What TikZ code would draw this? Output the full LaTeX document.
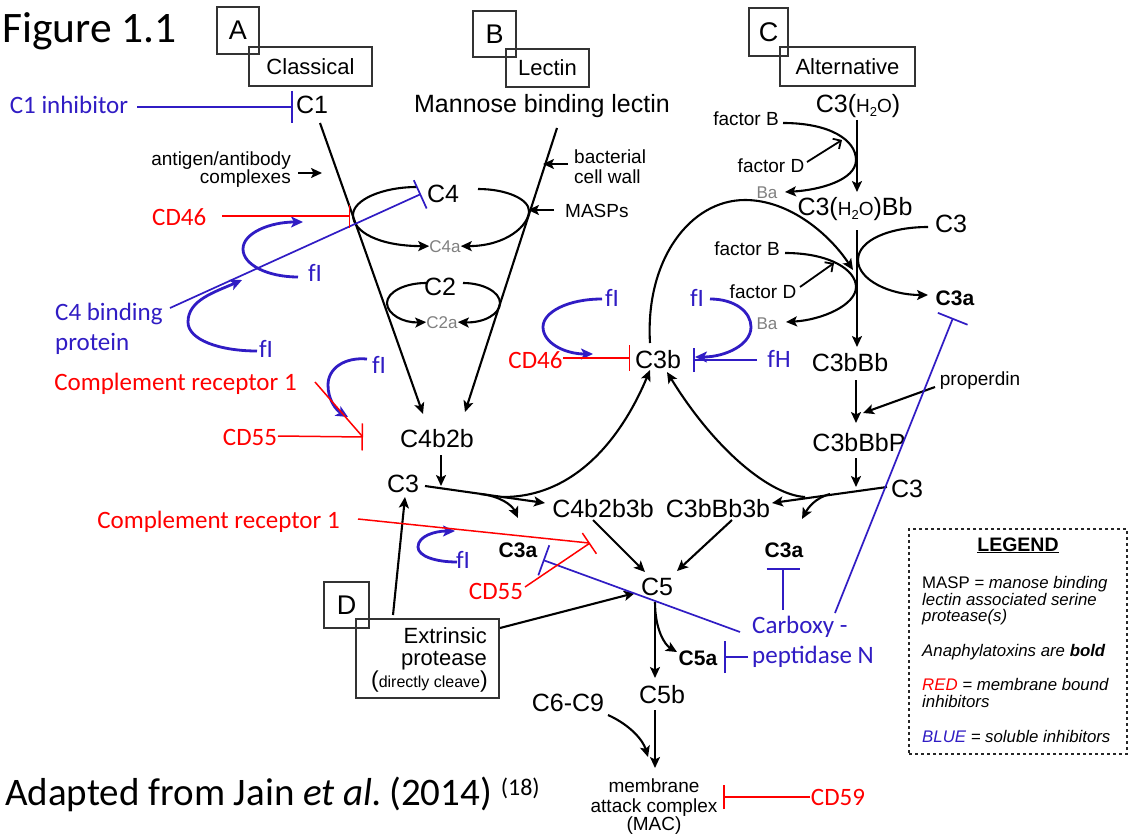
\documentclass[tikz,border=0pt]{standalone}
\usepackage{fontspec}
\setmainfont{Liberation Sans}
\newfontfamily\calfont{Carlito}
\usetikzlibrary{arrows.meta}
\definecolor{iblue}{RGB}{48,28,196}
\definecolor{ired}{RGB}{255,0,0}
\definecolor{tgray}{RGB}{128,128,128}
\newcommand\fsMain{\fontsize{25}{29}\selectfont}
\newcommand\fsSm{\fontsize{19}{21}\selectfont}
\newcommand\fsGr{\fontsize{17}{19}\selectfont}
\newcommand\fsBd{\fontsize{21}{23}\selectfont\bfseries}
\newcommand\fsCal{\calfont\fontsize{25}{28}\selectfont}
\newcommand\fsLeg{\fontsize{16.8}{19}\selectfont}
\newcommand\fsBox{\fontsize{22}{25}\selectfont}
\newcommand\fsLet{\fontsize{27}{30}\selectfont}
\newcommand\hwo{{\fontsize{19}{20}\selectfont H\raisebox{-4pt}{\fontsize{13}{14}\selectfont 2}O}}
\tikzset{
  lnp/.style={line width=2.1pt, black},
  lnk/.style={lnp, -{Stealth[length=11pt,width=10pt,inset=2.5pt]}},
  opn/.style={line width=1.8pt, black, -{Straight Barb[length=6pt,width=12pt]}},
  rln/.style={ired, line width=1.5pt},
  bln/.style={iblue, line width=1.7pt},
  bloop/.style={iblue, line width=2.8pt, -{Stealth[length=12pt,width=11pt,inset=3pt]}},
  bx/.style={draw=black!80, line width=1.2pt, inner sep=0pt},
  nd/.style={font=\fsMain, inner sep=0pt, anchor=base},
  sm/.style={font=\fsSm, inner sep=0pt, anchor=base},
  gr/.style={font=\fsGr, text=tgray, inner sep=0pt, anchor=base},
  bd/.style={font=\fsBd, inner sep=0pt, anchor=base},
  rc/.style={font=\fsCal, text=ired, inner sep=0pt, anchor=base},
  bc/.style={font=\fsCal, text=iblue, inner sep=0pt, anchor=base},
  lg/.style={font=\fsLeg, inner sep=0pt, anchor=base west},
}
\begin{document}
\begin{tikzpicture}[x=1pt,y=-1pt]
\fill[white] (0,0) rectangle (1133,840);
\useasboundingbox (0,0) rectangle (1133,840);

% ---------- title and pathway boxes ----------
\node[font=\calfont\fontsize{43.5}{50}\selectfont, inner sep=0pt, anchor=base west] (fig) at (2,43) {Figure 1.1};
\node[bx, minimum width=42pt, minimum height=47pt, font=\fsLet] (bA) at (238,30.5) {A};
\node[bx, minimum width=123pt, minimum height=39pt, font=\fsBox] (cls) at (310.5,66.5) {Classical};
\node[bx, minimum width=43pt, minimum height=46pt, font=\fsLet] (bB) at (494.5,34) {B};
\node[bx, minimum width=83pt, minimum height=38pt, font=\fsBox] (lec) at (547.5,68) {Lectin};
\node[bx, minimum width=39pt, minimum height=48pt, font=\fsLet] (bC) at (768.5,32) {C};
\node[bx, minimum width=135pt, minimum height=39pt, font=\fsBox] (alt) at (847.5,66.5) {Alternative};
\node[bx, minimum width=45pt, minimum height=46pt, font=\fsLet] (bD) at (346.5,605) {D};
\node[bx, minimum width=143pt, minimum height=79pt] (ext) at (427.5,658.5) {};
\node[font=\fontsize{22}{24}\selectfont, inner sep=0pt, anchor=base east] (ex1) at (487,643) {Extrinsic};
\node[font=\fontsize{22}{24}\selectfont, inner sep=0pt, anchor=base east] (ex2) at (487,665) {protease};
\node[inner sep=0pt, anchor=base east] (ex3) at (488,687) {{\fontsize{23}{24}\selectfont(}{\fontsize{16}{18}\selectfont directly cleave}{\fontsize{23}{24}\selectfont)}};

% ---------- main nodes ----------
\node[nd] (C1) at (312,114) {C1};
\node[nd] (MBL) at (542,113) {Mannose binding lectin};
\node[nd] (C4) at (443,203) {C4};
\node[gr] (C4a) at (445,252) {C4a};
\node[nd] (C2) at (440,295) {C2};
\node[gr] (C2a) at (442,328) {C2a};
\node[nd] (C4b2b) at (437,447) {C4b2b};
\node[nd] (C3L) at (403,492) {C3};
\node[nd] (C4b2b3b) at (603,517) {C4b2b3b};
\node[nd] (C3bBb3b) at (718,517) {C3bBb3b};
\node[nd] (C3b) at (658,368) {C3b};
\node[nd] (C5) at (657,595) {C5};
\node[nd] (C5b) at (662,703) {C5b};
\node[nd] (C6C9) at (568,711) {C6-C9};
\node[sm] (mac1) at (654,792) {membrane};
\node[sm] (mac2) at (654,812) {attack complex};
\node[sm] (mac3) at (654,830) {(MAC)};
\node[nd] (C3w) at (858,113) {C3(\hwo)};
\node[nd] (C3wBb) at (855,215) {C3(\hwo)Bb};
\node[nd] (C3R1) at (951,233) {C3};
\node[bd] (C3aR1) at (955,305) {C3a};
\node[nd] (C3bBb) at (850,371) {C3bBb};
\node[nd] (C3bBbP) at (859,451) {C3bBbP};
\node[nd] (C3R2) at (907,497) {C3};
\node[bd] (C3aR2) at (784,557) {C3a};
\node[bd] (C3aL) at (518,557) {C3a};
\node[bd] (C5a) at (698,665) {C5a};

% small black labels
\node[sm] (fB1) at (746,126) {factor B};
\node[sm] (fD1) at (771,172) {factor D};
\node[gr] (Ba1) at (767,199) {Ba};
\node[sm] (fB2) at (747,255) {factor B};
\node[sm] (fD2) at (763,298) {factor D};
\node[gr] (Ba2) at (767,329) {Ba};
\node[sm] (prop) at (980,385) {properdin};
\node[sm, anchor=base east] (ag1) at (291,166) {antigen/antibody};
\node[sm, anchor=base east] (ag2) at (291,184) {complexes};
\node[sm, anchor=base west] (bw1) at (574,164) {bacterial};
\node[sm, anchor=base west] (bw2) at (574,183) {cell wall};
\node[sm, anchor=base west] (masp) at (565,217) {MASPs};

% inhibitor labels
\node[bc] (C1inh) at (69,114) {C1 inhibitor};
\node[rc, anchor=base west] (CD46L) at (152,225) {CD46};
\node[bc, anchor=base west] (c4bp1) at (55,320) {C4 binding};
\node[bc, anchor=base west] (c4bp2) at (55,350) {protein};
\node[bc] (fI1) at (315,281) {fI};
\node[bc] (fI2) at (266,357) {fI};
\node[bc] (fI3) at (379,373) {fI};
\node[rc] (CR1U) at (175.5,390) {Complement receptor 1};
\node[rc] (CD55U) at (250,445) {CD55};
\node[rc] (CR1L) at (218.5,528) {Complement receptor 1};
\node[rc] (CD46M) at (535.5,368) {CD46};
\node[bc] (fIm1) at (612,306) {fI};
\node[bc] (fIm2) at (697,306) {fI};
\node[bc] (fH) at (779,367) {fH};
\node[bc] (fIL) at (463,568) {fI};
\node[rc] (CD55L) at (496,599) {CD55};
\node[bc, anchor=base west] (cpn1) at (752,633) {Carboxy -};
\node[bc, anchor=base west] (cpn2) at (752,663) {peptidase N};
\node[rc] (CD59) at (838,805) {CD59};

\node[font=\calfont\fontsize{39}{42}\selectfont, inner sep=0pt, anchor=base west] (src) at (5,805)
  {Adapted from Jain \textit{et al.}\kern-2pt\ (2014) \raisebox{10pt}{\fontsize{24}{26}\selectfont(18)}};

% ---------- legend ----------
\node[draw=black!85, dashed, line width=1.2pt, minimum width=218pt, minimum height=225pt, inner sep=0pt] (leg) at (1018,641.5) {};
\node[font=\fontsize{19.5}{21}\selectfont\bfseries, inner sep=0pt, anchor=base] (legt) at (1018,551) {\underline{LEGEND}};
\node[lg] (lg1) at (922,588) {MASP \textit{= manose binding}};
\node[lg] (lg2) at (922,605) {\textit{lectin associated serine}};
\node[lg] (lg3) at (922,621) {\textit{protease(s)}};
\node[lg] (lg4) at (922,656) {\textit{Anaphylatoxins are \textbf{bold}}};
\node[lg] (lg5) at (922,690) {\textit{\textcolor{ired}{RED} = membrane bound}};
\node[lg] (lg6) at (922,707) {\textit{inhibitors}};
\node[lg] (lg7) at (922,742) {\textit{\textcolor{iblue}{BLUE} = soluble inhibitors}};

% ---------- coordinates ----------
\path (320,123) coordinate (c1o)   (423,414) coordinate (c1i)
      (557,128) coordinate (mblo)  (465,412) coordinate (mbli)
      (298,173) coordinate (ago)   (322,173) coordinate (agi)
      (568,164) coordinate (bwo)   (543,164) coordinate (bwi)
      (554,210) coordinate (mso)   (528,210) coordinate (msi)
      (441,455) coordinate (c42o)  (441,486) coordinate (c42i)
      (425,486) coordinate (c3lo)  (545,503) coordinate (c3li)
      (480,494) coordinate (c3ao)  (518,518) coordinate (c3ai)
      (503,497) coordinate (c3bo)  (650,370) coordinate (c3bi)
      (857,120) coordinate (c3wo)  (857,192) coordinate (c3wi)
      (807,162) coordinate (fd1o)  (842,140) coordinate (fd1i)
      (857,230) coordinate (c3wbo) (857,347) coordinate (c3wbi)
      (800,287) coordinate (fd2o)  (834,263) coordinate (fd2i)
      (650,343) coordinate (arco)  (853,270) coordinate (arci)
      (856,380) coordinate (bbo)   (856,423) coordinate (bbi)
      (935,387) coordinate (ppo)   (863,413) coordinate (ppi)
      (856,458) coordinate (bbpo)  (856,487) coordinate (bbpi)
      (887,487) coordinate (c3ro)  (772,503) coordinate (c3ri)
      (830,494) coordinate (c3rao) (802,519) coordinate (c3rai)
      (805,497) coordinate (c3rbo) (667,372) coordinate (c3rbi)
      (593,520) coordinate (k1o)   (645,572) coordinate (k1i)
      (732,520) coordinate (k2o)   (677,571) coordinate (k2i)
      (500,628) coordinate (exo)   (635,593) coordinate (exi)
      (393,615) coordinate (ex3o)  (405,497) coordinate (ex3i)
      (655,602) coordinate (c5o)   (655,678) coordinate (c5i)
      (677,652) coordinate (c5ai)
      (655,710) coordinate (c5bo)  (655,768) coordinate (maci)
      (608,715) coordinate (c69o)  (648,757) coordinate (c69i);

% ---------- black connectors ----------
\draw[lnk] (c1o) -- (c1i);
\draw[lnk] (mblo) -- (mbli);
\draw[lnk] (ago) -- (agi);
\draw[lnk] (bwo) -- (bwi);
\draw[lnk] (mso) -- (msi);
% C4 and C2 cleavage loops
\draw[lnk] (417,187) .. controls (382,187) and (353,200) .. (353,215) .. controls (353,232) and (379,246) .. (C4a.west);
\draw[lnk] (478,189) .. controls (506,189) and (529,199) .. (529,211) .. controls (529,225) and (507,246) .. (C4a.east);
\draw[lnk] (426,283) .. controls (405,283) and (387,292) .. (387,303) .. controls (387,314) and (403,323) .. (C2a.west);
\draw[lnk] (463,283) .. controls (483,283) and (500,292) .. (500,303) .. controls (500,314) and (484,323) .. (C2a.east);
\draw[lnk] (c42o) -- (c42i);
\draw[lnk] (c3lo) -- (c3li);
\draw[lnk] (c3ao) .. controls (500,496) and (512,505) .. (c3ai);
\draw[lnk] (c3bo) .. controls (580,497) and (625,430) .. (c3bi);
% alternative pathway
\draw[lnk] (c3wo) -- (c3wi);
\draw[lnk] (783,123) .. controls (830,123) and (856,140) .. (856,160) .. controls (856,180) and (820,190) .. (785,192);
\draw[opn] (fd1o) -- (fd1i);
\draw[lnk] (c3wbo) -- (c3wbi);
\draw[lnk] (928,227) .. controls (890,227) and (858,240) .. (858,260) .. controls (858,280) and (890,295) .. (928,295);
\draw[lnk] (785,253) .. controls (830,253) and (856,270) .. (856,287) .. controls (856,305) and (822,320) .. (786,322);
\draw[opn] (fd2o) -- (fd2i);
\draw[lnk] (arco) .. controls (645,260) and (690,200) .. (745,200) .. controls (790,200) and (830,235) .. (arci);
\draw[lnk] (bbo) -- (bbi);
\draw[lnk] (ppo) -- (ppi);
\draw[lnk] (bbpo) -- (bbpi);
\draw[lnk] (c3ro) -- (c3ri);
\draw[lnk] (c3rao) .. controls (815,498) and (808,508) .. (c3rai);
\draw[lnk] (c3rbo) .. controls (770,495) and (715,450) .. (c3rbi);
% terminal pathway
\draw[lnk] (k1o) -- (k1i);
\draw[lnk] (k2o) -- (k2i);
\draw[lnk] (exo) -- (exi);
\draw[lnk] (ex3o) -- (ex3i);
\draw[lnk] (c5o) -- (c5i);
\draw[lnk] (c5o) .. controls (655,630) and (665,645) .. (c5ai);
\draw[lnk] (c5bo) -- (maci);
\draw[lnk] (c69o) .. controls (630,725) and (643,740) .. (c69i);

% ---------- blue inhibitors ----------
\draw[bln, -{Bar[width=32pt]}] (137,107) -- (293,107);
\draw[bln, -{Bar[width=31pt]}] (170,308) -- (421,194);
\draw[bln, -{Bar[width=24pt]}] (757,360) -- (693,360);
\draw[bln, -{Bar[width=32pt]}] (835,613) -- (953,318);
\draw[bln, -{Bar[width=33pt]}] (783,610) -- (783,568);
\draw[bln, -{Bar[width=32pt]}] (740,632) -- (543,560);
\draw[bln, -{Bar[width=32pt]}] (748,657) -- (724,657);
% fI loops
\draw[bloop] (298,277) .. controls (268,277) and (243,265) .. (243,249) .. controls (243,233) and (270,222) .. (303,222);
\draw[bloop] (257,351) .. controls (220,351) and (188,340) .. (188,322) .. controls (188,300) and (215,292) .. (242,280);
\draw[bloop] (367,359) .. controls (345,357) and (328,368) .. (328,385) .. controls (328,400) and (336,410) .. (348,417);
\draw[bloop] (602,299) .. controls (568,299) and (543,312) .. (543,327) .. controls (543,343) and (565,354) .. (593,354);
\draw[bloop] (710,299) .. controls (735,299) and (751,312) .. (751,327) .. controls (751,345) and (725,357) .. (695,357);
\draw[bloop] (457,562) .. controls (435,562) and (418,556) .. (418,547) .. controls (418,536) and (435,531) .. (455,531);

% ---------- red inhibitors ----------
\draw[rln, -{Bar[width=23pt]}] (222,216) -- (350,216);
\draw[rln] (315,382) -- (362,436);
\draw[rln, -{Bar[width=27pt]}] (278,436) -- (363,437);
\draw[rln] (358,519) -- (589,543);
\draw[rln, -{Bar[width=25pt]}] (525,587) -- (590,543);
\draw[rln, -{Bar[width=26pt]}] (563,358) -- (630,358);
\draw[rln, -{Bar[width=24pt]}] (810,797) -- (723,797);
\end{tikzpicture}
\end{document}
